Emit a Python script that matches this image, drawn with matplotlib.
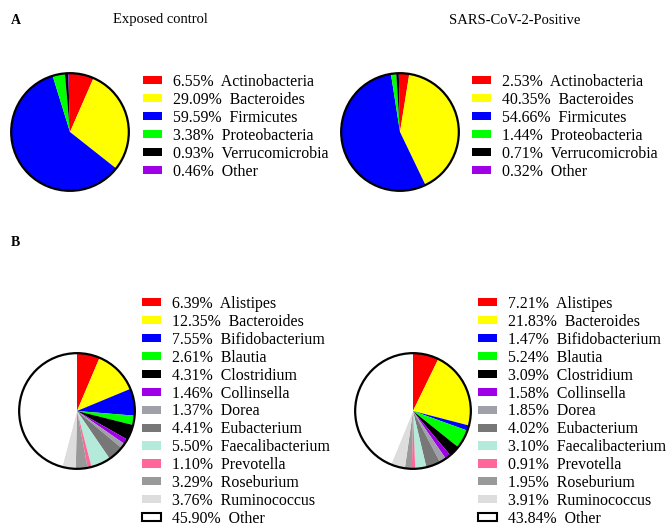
"""
Relative abundance pies, phylum (A) and genus (B) level.
"""
import matplotlib.pyplot as plt
from matplotlib.patches import Circle, Patch

plt.rcParams['font.family'] = ['Liberation Serif', 'DejaVu Serif']

W, H = 670, 523

phyla = ["Actinobacteria", "Bacteroides", "Firmicutes", "Proteobacteria",
         "Verrucomicrobia", "Other"]
phyla_control = [6.55, 29.09, 59.59, 3.38, 0.93, 0.46]
phyla_positive = [2.53, 40.35, 54.66, 1.44, 0.71, 0.32]
phyla_colors = ["#ff0000", "#ffff00", "#0000ff", "#00ff00", "#000000", "#a000e8"]

genera = ["Alistipes", "Bacteroides", "Bifidobacterium", "Blautia", "Clostridium",
          "Collinsella", "Dorea", "Eubacterium", "Faecalibacterium", "Prevotella",
          "Roseburium", "Ruminococcus", "Other"]
genera_control = [6.39, 12.35, 7.55, 2.61, 4.31, 1.46, 1.37, 4.41, 5.50, 1.10,
                  3.29, 3.76, 45.90]
genera_positive = [7.21, 21.83, 1.47, 5.24, 3.09, 1.58, 1.85, 4.02, 3.10, 0.91,
                   1.95, 3.91, 43.84]
genera_colors = ["#ff0000", "#ffff00", "#0000ff", "#00ff00", "#000000", "#a000e8",
                 "#a0a0a8", "#777777", "#b3eada", "#ff6699", "#999999", "#dddddd",
                 "#ffffff"]


def drawPie(fig, cx, cy, r, values, colors):
    """
    Draws a clockwise pie centred at pixel (cx, cy) measured from the top left.
    """
    ax = fig.add_axes([(cx - r) / W, 1 - (cy + r) / H, 2 * r / W, 2 * r / H])
    ax.pie(values, colors=colors, startangle=90, counterclock=False,
           wedgeprops=dict(linewidth=0))
    ax.add_patch(Circle((0, 0), 1, fill=False, edgecolor="black", linewidth=1.6))
    ax.set_xlim(-1.02, 1.02)
    ax.set_ylim(-1.02, 1.02)
    ax.set_aspect("equal")
    ax.axis("off")
    return ax


def drawLegend(fig, x, y, names, values, colors, outline_last=False):
    """
    Legend with percent labels, top left corner at pixel (x, y).
    """
    handles = []
    for i, (n, v, c) in enumerate(zip(names, values, colors)):
        if outline_last and i == len(names) - 1:
            h = Patch(facecolor=c, edgecolor="black", linewidth=1.5)
        else:
            h = Patch(facecolor=c, edgecolor="none")
        handles.append(h)
    labels = ["%.2f%%  %s" % (v, n) for n, v in zip(names, values)]
    fig.legend(handles, labels, loc="upper left",
               bbox_to_anchor=(x / W, 1 - y / H), frameon=False,
               fontsize=11.4, handlelength=1.2, handleheight=0.42,
               handletextpad=0.7, labelspacing=0.12, borderpad=0,
               borderaxespad=0)


fig = plt.figure(figsize=(6.7, 5.23), dpi=100)

fig.text(11 / W, 1 - 20 / H, "A", fontsize=10, fontweight="bold", va="center")
fig.text(160 / W, 1 - 20 / H, "Exposed control", fontsize=10.5, ha="center", va="center")
fig.text(515 / W, 1 - 20 / H, "SARS-CoV-2-Positive", fontsize=10.5, ha="center", va="center")
fig.text(11 / W, 1 - 243 / H, "B", fontsize=10, fontweight="bold", va="center")

drawPie(fig, 70, 132, 60, phyla_control, phyla_colors)
drawPie(fig, 400, 132, 60, phyla_positive, phyla_colors)
drawLegend(fig, 143, 74, phyla, phyla_control, phyla_colors)
drawLegend(fig, 472, 74, phyla, phyla_positive, phyla_colors)

drawPie(fig, 77, 411, 59, genera_control, genera_colors)
drawPie(fig, 413, 411, 59, genera_positive, genera_colors)
drawLegend(fig, 142, 296, genera, genera_control, genera_colors, outline_last=True)
drawLegend(fig, 478, 296, genera, genera_positive, genera_colors, outline_last=True)

fig.savefig("out.png", dpi=100)
